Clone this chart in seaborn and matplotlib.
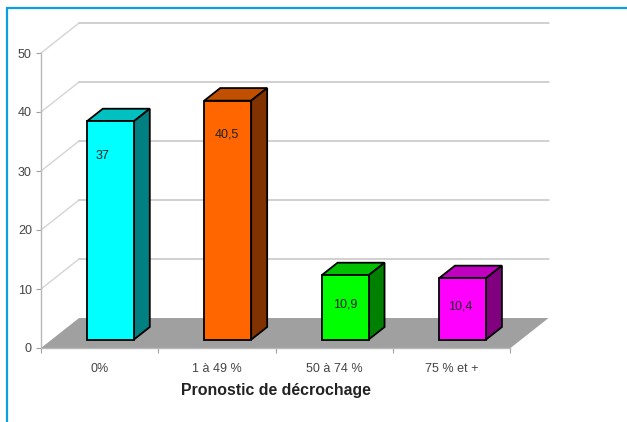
import matplotlib
matplotlib.use("Agg")
import matplotlib.pyplot as plt
import seaborn as sns
from matplotlib.lines import Line2D

categories = ["0%", "1 à 49 %", "50 à 74 %", "75 % et +"]
values = [37, 40.5, 10.9, 10.4]
value_labels = ["37", "40,5", "10,9", "10,4"]
y_ticks = [0, 10, 20, 30, 40, 50]
front_colors = ["#00FFFF", "#FF6600", "#00FF00", "#FF00FF"]
top_colors = ["#00C0C0", "#C05000", "#00C000", "#C000C0"]
side_colors = ["#008080", "#803300", "#008000", "#800080"]
x_title = "Pronostic de décrochage"

sns.set_theme(style="white")
plt.rcParams["font.family"] = ["Liberation Sans", "DejaVu Sans"]

W, H = 627, 422
fig = plt.figure(figsize=(W / 100, H / 100), dpi=100, facecolor="white")
ax = fig.add_axes([41 / W, (H - 348) / H, 469.5 / W, 295 / H])

# Oblique depth vector of the floor, in data units
DX, DY = 0.324, 5.08
BAR_FRONT, BAR_BACK = 0.28, 0.70
BAR_WIDTH = 0.40
EDGE = 1.3
GRID = "#C4C4C4"
WALL = "#D4D4D4"
TEXT = "#444444"

sns.barplot(x=categories, y=values, hue=categories, palette=front_colors,
            legend=False, width=BAR_WIDTH, saturation=1, edgecolor="black",
            linewidth=EDGE, ax=ax, zorder=4, clip_on=False)
ax.set_xlim(-0.5, 3.5)
ax.set_ylim(0, 50)

# Floor
x0, x1 = -0.5, 3.5
ax.fill([x0, x1, x1 + DX, x0 + DX], [0, 0, DY, DY], color="#A0A0A0", lw=0,
        zorder=2, clip_on=False)

# Gridlines run up the side wall, then across the back wall
for v in y_ticks[1:]:
    ax.plot([x0, x0 + DX], [v, v + DY], color=WALL, lw=1.0, zorder=1,
            clip_on=False)
    ax.plot([x0 + DX, x1 + DX], [v + DY, v + DY], color=GRID, lw=1.1, zorder=1,
            clip_on=False)

# Move the fronts back onto the floor and add the top and side faces
shift = BAR_FRONT * DX
rise = BAR_FRONT * DY
ddx = (BAR_BACK - BAR_FRONT) * DX
ddy = (BAR_BACK - BAR_FRONT) * DY
for i, (bar, v) in enumerate(zip(ax.patches, values)):
    bar.set_x(bar.get_x() + shift)
    bar.set_y(rise)
    bar.set_joinstyle("miter")
    left = bar.get_x()
    right = left + bar.get_width()
    top = rise + v
    ax.fill([left, right, right + ddx, left + ddx],
            [top, top, top + ddy, top + ddy],
            facecolor=top_colors[i], edgecolor="black", lw=EDGE, zorder=3,
            clip_on=False, joinstyle="miter")
    ax.fill([right, right + ddx, right + ddx, right],
            [rise, rise + ddy, top + ddy, top],
            facecolor=side_colors[i], edgecolor="black", lw=EDGE, zorder=3,
            clip_on=False, joinstyle="miter")

# Value labels inside the bars
label_offsets = [(-7.5, -35), (-1, -34), (0, -29.5), (-2, -28)]
for i, (bar, v) in enumerate(zip(ax.patches, values)):
    ax.annotate(value_labels[i], (bar.get_x() + bar.get_width() / 2, rise + v),
                xytext=(label_offsets[i][0] * 0.72, label_offsets[i][1] * 0.72),
                textcoords="offset points", ha="center", va="center",
                fontsize=9.0, color="#222222", zorder=6)

# Axes
sns.despine(ax=ax, top=True, right=True)
for side in ("left", "bottom"):
    ax.spines[side].set_color("#B8B8B8")
    ax.spines[side].set_linewidth(1.0)
    ax.spines[side].set_zorder(3)
ax.set_yticks(y_ticks)
ax.tick_params(axis="y", which="major", left=True, length=3.6, width=0.8,
               color="#A0A0A0", labelsize=9.0, labelcolor=TEXT, pad=3)
ax.set_xticks(range(len(categories)))
ax.set_xticklabels(categories)
ax.tick_params(axis="x", which="major", length=0, labelsize=9.0,
               labelcolor=TEXT, pad=10.5)
ax.set_xticks([-0.5, 0.5, 1.5, 2.5, 3.5], minor=True)
ax.tick_params(axis="x", which="minor", bottom=True, length=3.6, width=0.8,
               color="#A0A0A0")
ax.set_xlabel(x_title, fontsize=11.4, fontweight="bold", color="#222222",
              labelpad=6.0)
ax.set_ylabel("")
ax.grid(False)
ax.patch.set_alpha(0)

# Blue frame along the left and top of the figure
frame = "#0A9FE0"
fig.add_artist(Line2D([7 / W, 7 / W], [0, (H - 8) / H], color=frame, lw=1.6,
                      transform=fig.transFigure))
fig.add_artist(Line2D([7 / W, 1], [(H - 8) / H, (H - 8) / H], color=frame, lw=1.6,
                      transform=fig.transFigure))

fig.savefig("out.png", dpi=100, facecolor="white")
